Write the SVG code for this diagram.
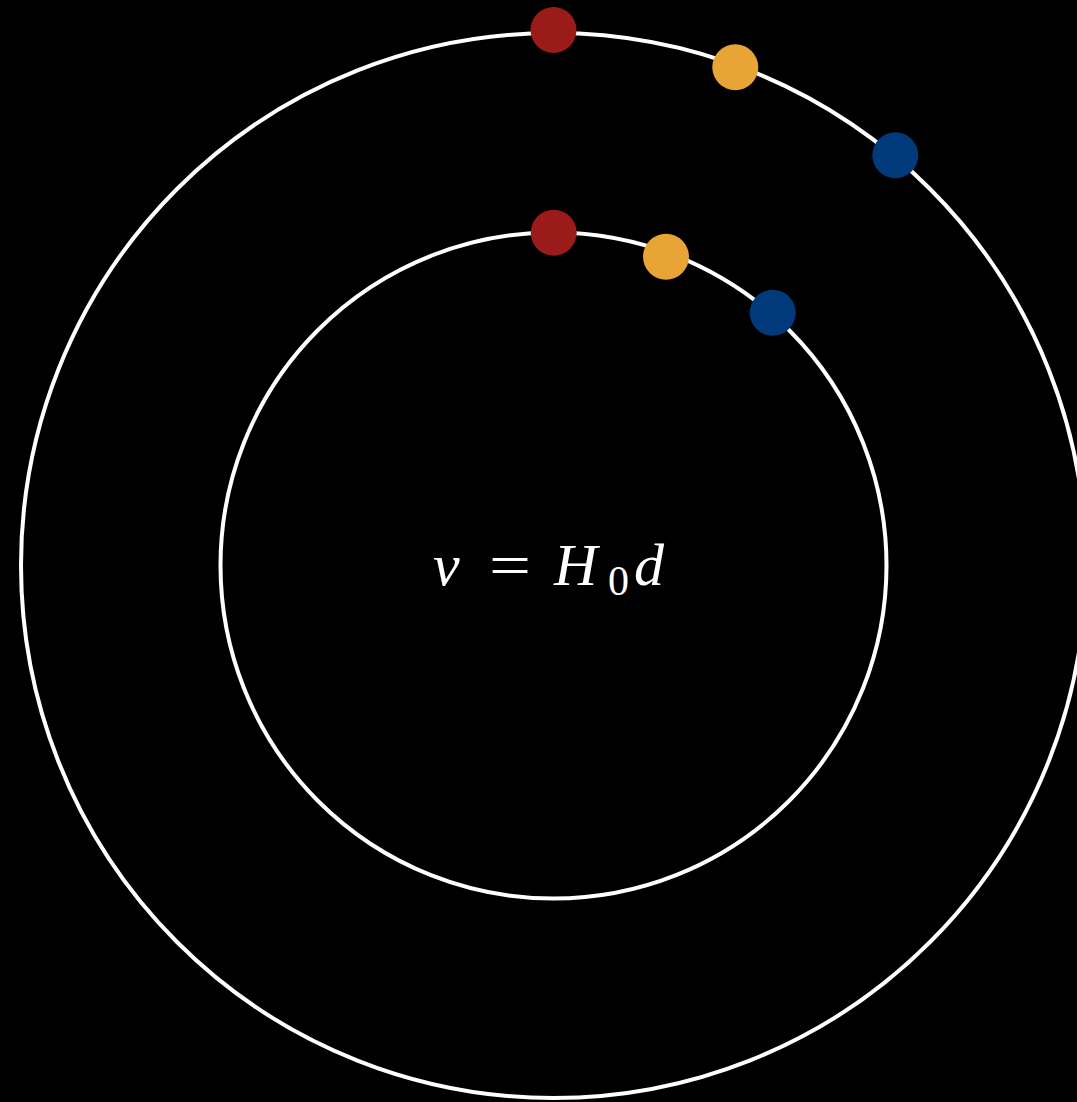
<svg xmlns="http://www.w3.org/2000/svg" width="1077" height="1102" viewBox="0 0 1077 1102">
<style>
.orbit{fill:none;stroke:#ffffff;stroke-width:4}
.red{fill:#9b1b1a}
.orange{fill:#e8a536}
.blue{fill:#003a7a}
.eq{font-family:"Liberation Serif","DejaVu Serif",serif;font-size:60px;fill:#ffffff}
</style>
<rect x="0" y="0" width="1077" height="1102" fill="#000000"/>
<g id="outer-orbit"><circle class="orbit" cx="553.5" cy="565.5" r="532.5"/></g>
<g id="inner-orbit"><circle class="orbit" cx="553.5" cy="565.5" r="333"/></g>
<g id="outer-red"><circle class="red" cx="553.5" cy="30" r="23"/></g>
<g id="outer-orange"><circle class="orange" cx="735.3" cy="67.3" r="23"/></g>
<g id="outer-blue"><circle class="blue" cx="895.3" cy="155.3" r="23"/></g>
<g id="inner-red"><circle class="red" cx="553.7" cy="232.7" r="23"/></g>
<g id="inner-orange"><circle class="orange" cx="666" cy="256.7" r="23"/></g>
<g id="inner-blue"><circle class="blue" cx="772.7" cy="312.7" r="23"/></g>
<g id="label">
<text class="eq"><tspan x="433" y="585" font-style="italic">v</tspan><tspan x="489" y="585" textLength="42" lengthAdjust="spacingAndGlyphs">=</tspan><tspan x="554" y="585" font-style="italic">H</tspan><tspan x="608" y="595" font-size="42">0</tspan><tspan x="634" y="585" font-style="italic">d</tspan></text>
</g>
</svg>
